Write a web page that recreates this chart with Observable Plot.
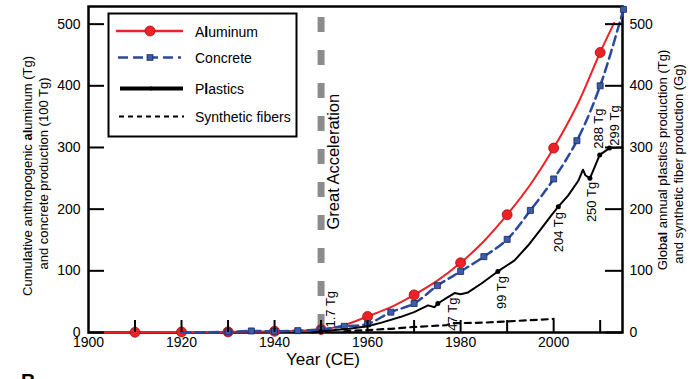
<!DOCTYPE html>
<html><head><meta charset="utf-8">
<script src="https://cdn.jsdelivr.net/npm/d3@7"></script>
<script src="https://cdn.jsdelivr.net/npm/@observablehq/plot@0.6"></script>
<style>body{margin:0;background:#fff;} svg{display:block}</style>
</head><body><div id="chart"></div>
<script>
// ---- data ----
const alYears  = [1903,1910,1920,1930,1940,1950,1955,1960,1965,1970,1975,1980,1985,1990,1995,2000,2005,2010,2013];
const alValues = [0,0.3,0.8,1,2,5,12,26,41,61,84,113,148,191,240,299,368,454,502];
const alMarkerYears = [1910,1920,1930,1940,1950,1960,1970,1980,1990,2000,2010];

const coYears  = [1920,1925,1930,1935,1940,1945,1950,1955,1960,1965,1970,1975,1980,1985,1990,1995,2000,2005,2010,2015];
const coValues = [0,0.5,1,2.5,2,3,5,10,14,33,47,76,99,123,151,198,249,311,400,524];
const coMarkerFrom = 1930;

const plYears  = [1948,1950,1953,1956,1960,1963,1967,1970,1973,1974.4,1975.1,1977,1978.7,1980,1981.6,1984.4,1988,1991.6,1994.5,1997.3,1999.5,2001,2003.1,2005.3,2006.3,2006.8,2007.8,2009.9,2012,2014.8];
const plValues = [0,1.7,4,6,10,16,25,33,44,41,47,56,64,62,65,79,99,117,141,168,190,204,222,246,264,255,250,288,299,300];
const plDotYears = [1950,1975.1,1988,2001,2007.8,2009.9,2012];

const fiYears  = [1955,1960,1965,1970,1975,1977,1978,1985,1990,1995,2000];
const fiValues = [2,4,6,9,11,12,15,16,18,20,22];

const plLabels      = ["1.7 Tg","47 Tg","99 Tg","204 Tg","250 Tg","288 Tg","299 Tg"];
const plLabelYears  = [1952.2,1978.4,1988.9,2001.2,2008.1,2009.8,2013.1];
const plLabelValues = [8,3,38,130,179,298,303];

const gaYear = 1950, gaLabelValue = 277, gaLabel = "Great Acceleration";

const yTicks = [0,100,200,300,400,500];
const xTicks = [1910,1920,1930,1940,1950,1960,1970,1980,1990,2000,2010];
const xLabelTicks = [1900,1920,1940,1960,1980,2000];

// ---- build ----
const W=697,H=379,mL=88,mR=75,mT=6,mB=47;
const pw=W-mL-mR, ph=H-mT-mB;
const font="'Liberation Sans', Arial, Helvetica, sans-serif";
const RED="#ee2226", BLUE="#2a48a0", SQ="#3b5cac";

const al = alYears.map((y,i)=>({year:y,value:alValues[i]}));
const alM = al.filter(d=>alMarkerYears.includes(d.year));
const co = coYears.map((y,i)=>({year:y,value:coValues[i]}));
const coM = co.filter(d=>d.year>=coMarkerFrom);
const pl = plYears.map((y,i)=>({year:y,value:plValues[i]}));
const plD = pl.filter(d=>plDotYears.includes(d.year));
const fi = fiYears.map((y,i)=>({year:y,value:fiValues[i]}));
const lab = plLabels.map((t,i)=>({text:t,year:plLabelYears[i],value:plLabelValues[i]}));

const chart = Plot.plot({
  width:W,height:H,marginLeft:mL,marginRight:mR,marginTop:mT,marginBottom:mB,
  style:{fontFamily:font,fontSize:"14px",background:"#fff",color:"#000"},
  x:{domain:[1900,2014.8]},
  y:{domain:[0,528.6]},
  marks:[
    Plot.ruleX([gaYear],{x:d=>d,stroke:"#8c8c8c",strokeWidth:7,strokeDasharray:"15,18",strokeDashoffset:22}),
    Plot.frame({stroke:"#000",strokeWidth:2.5}),
    Plot.axisX({ticks:xLabelTicks,tickSize:0,tickPadding:5,tickFormat:d=>String(d),label:null,fontSize:14}),
    Plot.axisY({anchor:"left",ticks:yTicks,tickSize:0,tickPadding:8,label:null,fontSize:14}),
    Plot.axisY({anchor:"right",ticks:yTicks,tickSize:0,tickPadding:7,label:null,fontSize:14}),
    Plot.line(al,{x:"year",y:"value",curve:"catmull-rom",stroke:RED,strokeWidth:2}),
    Plot.dot(alM,{x:"year",y:"value",r:5,fill:RED,stroke:"#9b1111",strokeWidth:0.8}),
    Plot.line(co,{x:"year",y:"value",curve:"catmull-rom",stroke:BLUE,strokeWidth:2.5,strokeDasharray:"9,5"}),
    Plot.dot(coM,{x:"year",y:"value",symbol:"square",r:3.4,fill:SQ,stroke:"#14245a",strokeWidth:0.8}),
    Plot.line(fi,{x:"year",y:"value",stroke:"#000",strokeWidth:2.2,strokeDasharray:"6,5"}),
    Plot.line(pl,{x:"year",y:"value",stroke:"#000",strokeWidth:2}),
    Plot.dot(plD,{x:"year",y:"value",r:2.5,fill:"#000"}),
    Plot.ruleY(yTicks,{y:d=>d,insetRight:pw-16,stroke:"#000",strokeWidth:2}),
    Plot.ruleY(yTicks,{y:d=>d,insetLeft:pw-17,stroke:"#000",strokeWidth:2}),
    Plot.ruleX(xTicks,{x:d=>d,insetTop:ph-12,stroke:"#000",strokeWidth:2}),
    Plot.text(lab,{x:"year",y:"value",text:"text",rotate:-90,textAnchor:"start",fontSize:13,fill:"#000"}),
    Plot.text([gaLabel],{x:()=>gaYear,y:()=>gaLabelValue,text:d=>d,rotate:-90,dx:13,fontSize:16.5,fill:"#000"})
  ]
});
document.getElementById("chart").appendChild(chart);

const svg = d3.select(chart);
svg.style("overflow","hidden");
function rich(sel, parts){
  parts.forEach(p=>{
    const t = sel.append("tspan").text(p[0]);
    if(p[1]) t.attr("font-weight","bold");
  });
}
const gl = svg.append("g").attr("transform","translate(0,176) rotate(-90)")
  .attr("font-family",font).attr("font-size",13).attr("text-anchor","middle").attr("fill","#000");
rich(gl.append("text").attr("x",0).attr("y",31.5),
  [["Cumu"],["l",1],["ative anthropogenic "],["al",1],["uminum (Tg)"]]);
gl.append("text").attr("x",2.5).attr("y",48).text("and concrete production (100 Tg)");

const gr = svg.append("g").attr("transform","translate(0,160) rotate(-90)")
  .attr("font-family",font).attr("font-size",13).attr("text-anchor","middle").attr("fill","#000");
rich(gr.append("text").attr("x",0).attr("y",667),
  [["Glob"],["al",1],[" annual p"],["l",1],["astics production (Tg)"]]);
gr.append("text").attr("x",-4).attr("y",683).text("and synthetic fiber production (Gg)");

svg.append("text").attr("x",323).attr("y",365).attr("text-anchor","middle")
  .attr("font-family",font).attr("font-size",17).attr("fill","#000").text("Year (CE)");
svg.append("text").attr("x",21).attr("y",388).attr("text-anchor","start").attr("font-family",font)
  .attr("font-size",20).attr("font-weight","bold").attr("fill","#000").text("B");

// legend
const lg = svg.append("g").attr("font-family",font).attr("font-size",14).attr("text-anchor","start");
lg.append("rect").attr("x",108.5).attr("y",13.5).attr("width",188).attr("height",123)
  .attr("fill","#fff").attr("stroke","#000").attr("stroke-width",2);
const ly=[31,57.5,88.5,116.5];
lg.append("line").attr("x1",116).attr("x2",183).attr("y1",ly[0]).attr("y2",ly[0]).attr("stroke",RED).attr("stroke-width",2.5);
lg.append("circle").attr("cx",150).attr("cy",ly[0]).attr("r",5).attr("fill",RED).attr("stroke","#9b1111").attr("stroke-width",0.8);
lg.append("line").attr("x1",118).attr("x2",181).attr("y1",ly[1]).attr("y2",ly[1]).attr("stroke",BLUE).attr("stroke-width",2.5).attr("stroke-dasharray","10,5");
lg.append("rect").attr("x",147).attr("y",ly[1]-2.8).attr("width",6).attr("height",5.6).attr("fill",SQ).attr("stroke","#14245a").attr("stroke-width",0.8);
lg.append("line").attr("x1",120).attr("x2",183).attr("y1",ly[2]).attr("y2",ly[2]).attr("stroke","#000").attr("stroke-width",4);
lg.append("circle").attr("cx",151).attr("cy",ly[2]).attr("r",2).attr("fill","#000");
lg.append("line").attr("x1",119).attr("x2",184).attr("y1",ly[3]).attr("y2",ly[3]).attr("stroke","#000").attr("stroke-width",2.2).attr("stroke-dasharray","5,4");
const lt = [[["A"],["l",1],["uminum"]],[["Concrete"]],[["P"],["l",1],["astics"]],[["Synthetic fibers"]]];
lt.forEach((parts,i)=>{
  rich(lg.append("text").attr("x",195).attr("y",ly[i]+5.5).attr("fill","#000"), parts);
});
</script></body></html>
